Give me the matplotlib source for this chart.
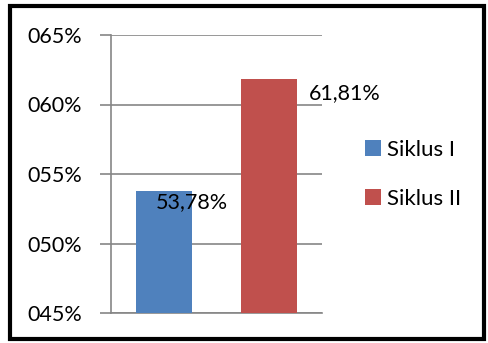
import matplotlib.pyplot as plt
from matplotlib.patches import Patch, Rectangle

siklus = ["Siklus I", "Siklus II"]
nilai = [53.78, 61.81]
label_nilai = ["53,78%", "61,81%"]
warna = ["#4F81BD", "#C0504D"]
y_ticks = [45, 50, 55, 60, 65]
y_labels = ["045%", "050%", "055%", "060%", "065%"]

plt.rcParams["font.family"] = ["Lato", "DejaVu Sans"]

W, H = 489, 343
fig = plt.figure(figsize=(W / 100, H / 100), dpi=100)
ax = fig.add_axes([111 / W, 30 / H, (322 - 111) / W, (313 - 35) / H])

pos = list(range(len(siklus)))
ax.bar(pos, [v - 45 for v in nilai], bottom=45, width=0.53, color=warna, zorder=3)

ax.set_xlim(-0.5, 1.5)
ax.set_ylim(45, 65)
ax.set_yticks(y_ticks)
ax.set_yticklabels(y_labels, fontsize=15.5)
ax.set_xticks([])
ax.yaxis.grid(True, color="#868686", linewidth=1.2, zorder=0)
ax.tick_params(axis="y", length=8, width=1.2, color="#868686", pad=13)
for s in ["top", "right"]:
    ax.spines[s].set_visible(False)
for s in ["left", "bottom"]:
    ax.spines[s].set_color("#868686")
    ax.spines[s].set_linewidth(1.2)

# label data
ax.text(0.27, 52.99, label_nilai[0], ha="center", va="center", fontsize=15.5, zorder=4, clip_on=False)
ax.text(1.377, 60.83, label_nilai[1], ha="left", va="center", fontsize=15.5, zorder=4, clip_on=False)

handles = [Patch(facecolor=c, edgecolor="none") for c in warna]
fig.legend(handles, siklus, loc="upper left", bbox_to_anchor=(345 / W, 1 - 120 / H),
           frameon=False, fontsize=16, handlelength=0.7, handleheight=0.7,
           handletextpad=0.3, labelspacing=1.3)

fig.add_artist(Rectangle((9.5 / W, 4 / H), (484 - 9.5) / W, (337 - 4) / H,
                         transform=fig.transFigure, fill=False, edgecolor="black", linewidth=3))

fig.savefig("out.png", dpi=100)
